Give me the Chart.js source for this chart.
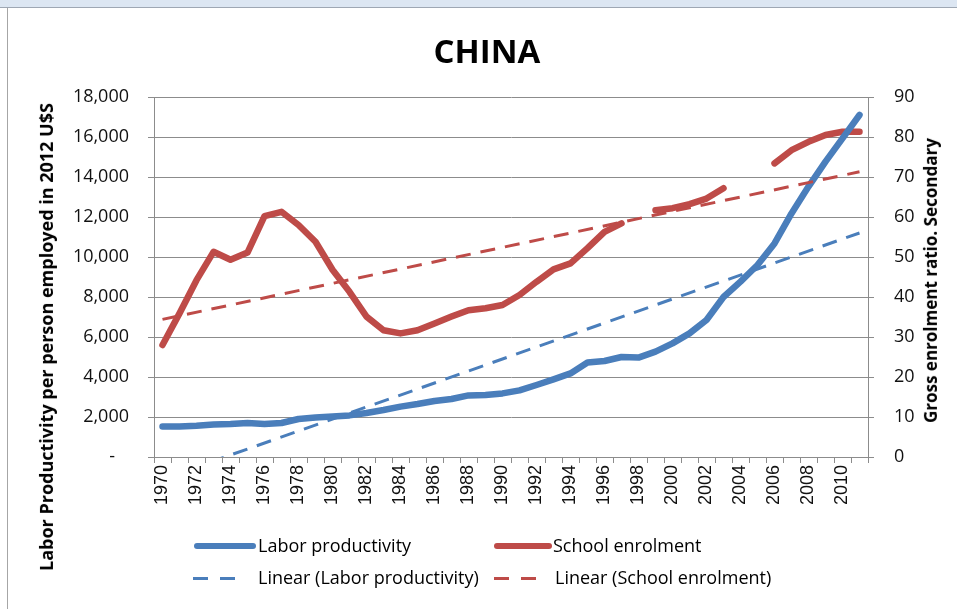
<!DOCTYPE html>
<html>
<head>
<meta charset="utf-8">
<script src="https://cdn.jsdelivr.net/npm/chart.js@4.4.1/dist/chart.umd.min.js"></script>
<style>
  html, body { margin: 0; padding: 0; background: #fff; }
  body { width: 957px; height: 609px; position: relative; overflow: hidden; font-family: "Open Sans", sans-serif; }
  #band { position: absolute; left: 0; top: 0; width: 957px; height: 7px; background: #dce6f2; border-bottom: 1px solid #9ea7b3; }
  #lborder { position: absolute; left: 7px; top: 8px; width: 1px; height: 601px; background: #a6a6a6; }
  #wrap { position: absolute; left: 0; top: 0; width: 957px; height: 609px; }
  .title { position: absolute; left: 387px; top: 28px; width: 200px; text-align: center; font: bold 33px "Open Sans", sans-serif; color: #000; }
  .ytitle { position: absolute; font-family: "Open Sans", sans-serif; font-weight: bold; color: #000; white-space: nowrap; transform-origin: center center; }
  .leg { position: absolute; font: 18px "Open Sans", sans-serif; color: #000; white-space: nowrap; line-height: 24px; }
  .sw { position: absolute; }
</style>
</head>
<body>
<div id="band"></div>
<div id="lborder"></div>
<div id="wrap"><canvas id="c" width="957" height="609"></canvas></div>
<div class="title">CHINA</div>
<div id="ltitle" class="ytitle" style="font-size:18px">Labor Productivity per person employed in 2012 U$S</div>
<div id="rtitle" class="ytitle" style="font-size:17px">Gross enrolment ratio. Secondary</div>
<div id="legend"></div>
<script>
// ---- data ----
const years = ["1970","1971","1972","1973","1974","1975","1976","1977","1978","1979",
               "1980","1981","1982","1983","1984","1985","1986","1987","1988","1989",
               "1990","1991","1992","1993","1994","1995","1996","1997","1998","1999",
               "2000","2001","2002","2003","2004","2005","2006","2007","2008","2009",
               "2010","2011"];
const laborProductivity = [1520,1520,1560,1620,1650,1700,1650,1700,1900,1980,
                           2030,2080,2200,2350,2520,2650,2800,2900,3080,3100,
                           3180,3330,3600,3880,4180,4720,4800,5000,4970,5270,
                           5680,6180,6850,8000,8770,9600,10680,12180,13520,14770,
                           15930,17100];
const schoolEnrolment = [28.0,35.9,44.2,51.3,49.3,51.1,60.2,61.3,58.0,53.8,
                         46.8,41.3,35.1,31.7,30.9,31.7,33.4,35.1,36.7,37.2,
                         38.0,40.5,43.8,46.9,48.4,52.2,56.3,58.4,null,61.7,
                         62.2,63.2,64.6,67.2,null,null,73.4,76.7,78.8,80.5,
                         81.3,81.3];
// trend lines: values read at the two ends of each dashed line
const trendLabor = [-1100,null,null,null,null,null,null,null,null,null,
                    null,null,null,null,null,null,null,null,null,null,
                    null,null,null,null,null,null,null,null,null,null,
                    null,null,null,null,null,null,null,null,null,null,
                    null,11200];
const trendSchool = [34.4,null,null,null,null,null,null,null,null,null,
                     null,null,null,null,null,null,null,null,null,null,
                     null,null,null,null,null,null,null,null,null,null,
                     null,null,null,null,null,null,null,null,null,null,
                     null,71.3];
const leftTicks = [0,2000,4000,6000,8000,10000,12000,14000,16000,18000];
const rightTicks = [0,10,20,30,40,50,60,70,80,90];
const seriesNames = ["Labor productivity","School enrolment","Linear (Labor productivity)","Linear (School enrolment)"];

const BLUE = "#4a7ebb", RED = "#be4b48", GRID = "#8c8c8c";

const AREA = { left: 154, right: 868, top: 97, bottom: 457 };

const chart = new Chart(document.getElementById("c"), {
  type: "line",
  data: {
    labels: years,
    datasets: [
      { label: seriesNames[0], data: laborProductivity, yAxisID: "y", borderColor: BLUE, backgroundColor: BLUE,
        borderWidth: 6.5, pointRadius: 0, tension: 0, borderJoinStyle: "round", borderCapStyle: "round", order: 1 },
      { label: seriesNames[1], data: schoolEnrolment, yAxisID: "y1", borderColor: RED, backgroundColor: RED,
        borderWidth: 6.5, pointRadius: 0, tension: 0, spanGaps: false, borderJoinStyle: "round", borderCapStyle: "round", order: 1 },
      { label: seriesNames[2], data: trendLabor, yAxisID: "y", borderColor: BLUE, borderWidth: 3, borderDash: [15, 10],
        pointRadius: 0, spanGaps: true, order: 0 },
      { label: seriesNames[3], data: trendSchool, yAxisID: "y1", borderColor: RED, borderWidth: 3, borderDash: [15, 10],
        pointRadius: 0, spanGaps: true, order: 0 }
    ]
  },
  options: {
    responsive: false,
    animation: false,
    events: [],
    layout: { padding: { top: AREA.top, left: 0, right: 0, bottom: 0 } },
    plugins: { legend: { display: false }, title: { display: false }, tooltip: { enabled: false } },
    scales: {
      x: {
        type: "category",
        offset: true,
        grid: { offset: true, drawOnChartArea: false, drawTicks: true, tickLength: 6, color: GRID },
        border: { color: GRID, width: 1 },
        ticks: {
          autoSkip: false, maxRotation: 90, minRotation: 90, padding: 2,
          color: "#111", font: { family: "Liberation Sans", size: 18 },
          callback: function (v, i) { return i % 2 === 0 ? years[i] : ""; }
        },
        afterFit: function (s) { s.height = 609 - AREA.bottom; }
      },
      y: {
        position: "left", min: 0, max: 18000,
        afterBuildTicks: function (s) { s.ticks = leftTicks.map(v => ({ value: v })); },
        grid: { color: GRID, tickLength: 6, lineWidth: 1 },
        border: { color: GRID, width: 1 },
        ticks: {
          padding: 19, color: "#111", font: { family: "Open Sans", size: 18 },
          callback: function (v) { return v === 0 ? "-   " : v.toLocaleString("en-US"); }
        },
        afterFit: function (s) { s.width = AREA.left; }
      },
      y1: {
        position: "right", min: 0, max: 90,
        afterBuildTicks: function (s) { s.ticks = rightTicks.map(v => ({ value: v })); },
        grid: { drawOnChartArea: false, color: GRID, tickLength: 6 },
        border: { color: GRID, width: 1 },
        ticks: { padding: 20, color: "#111", font: { family: "Open Sans", size: 18 } },
        afterFit: function (s) { s.width = 957 - AREA.right; }
      }
    }
  }
});

// axis titles (rotated real text)
function placeRotated(id, cx, cy) {
  const el = document.getElementById(id);
  const w = el.offsetWidth, h = el.offsetHeight;
  el.style.left = (cx - w / 2) + "px";
  el.style.top = (cy - h / 2) + "px";
  el.style.transform = "rotate(-90deg)";
}
placeRotated("ltitle", 46, 337);
placeRotated("rtitle", 930, 280);

// legend built from the dataset definitions
const legendSpec = [
  { ds: 0, swX: 194, swW: 62, y: 546, textX: 258, dashed: false },
  { ds: 1, swX: 494, swW: 58, y: 546, textX: 553, dashed: false },
  { ds: 2, swX: 193, swW: 43, y: 578, textX: 258, dashed: true },
  { ds: 3, swX: 494, swW: 43, y: 578, textX: 555, dashed: true }
];
const leg = document.getElementById("legend");
legendSpec.forEach(function (it) {
  const ds = chart.data.datasets[it.ds];
  const sw = document.createElement("div");
  sw.className = "sw";
  if (it.dashed) {
    sw.style.cssText = "left:" + it.swX + "px;top:" + (it.y - 1.5) + "px;width:" + it.swW + "px;height:3px;" +
      "background:repeating-linear-gradient(to right," + ds.borderColor + " 0 15px,transparent 15px 27px);";
  } else {
    sw.style.cssText = "left:" + it.swX + "px;top:" + (it.y - 3) + "px;width:" + it.swW + "px;height:6px;border-radius:3px;background:" + ds.borderColor + ";";
  }
  leg.appendChild(sw);
  const t = document.createElement("div");
  t.className = "leg";
  t.textContent = ds.label;
  t.style.left = it.textX + "px";
  t.style.top = (it.y - 13) + "px";
  leg.appendChild(t);
});
</script>
</body>
</html>
